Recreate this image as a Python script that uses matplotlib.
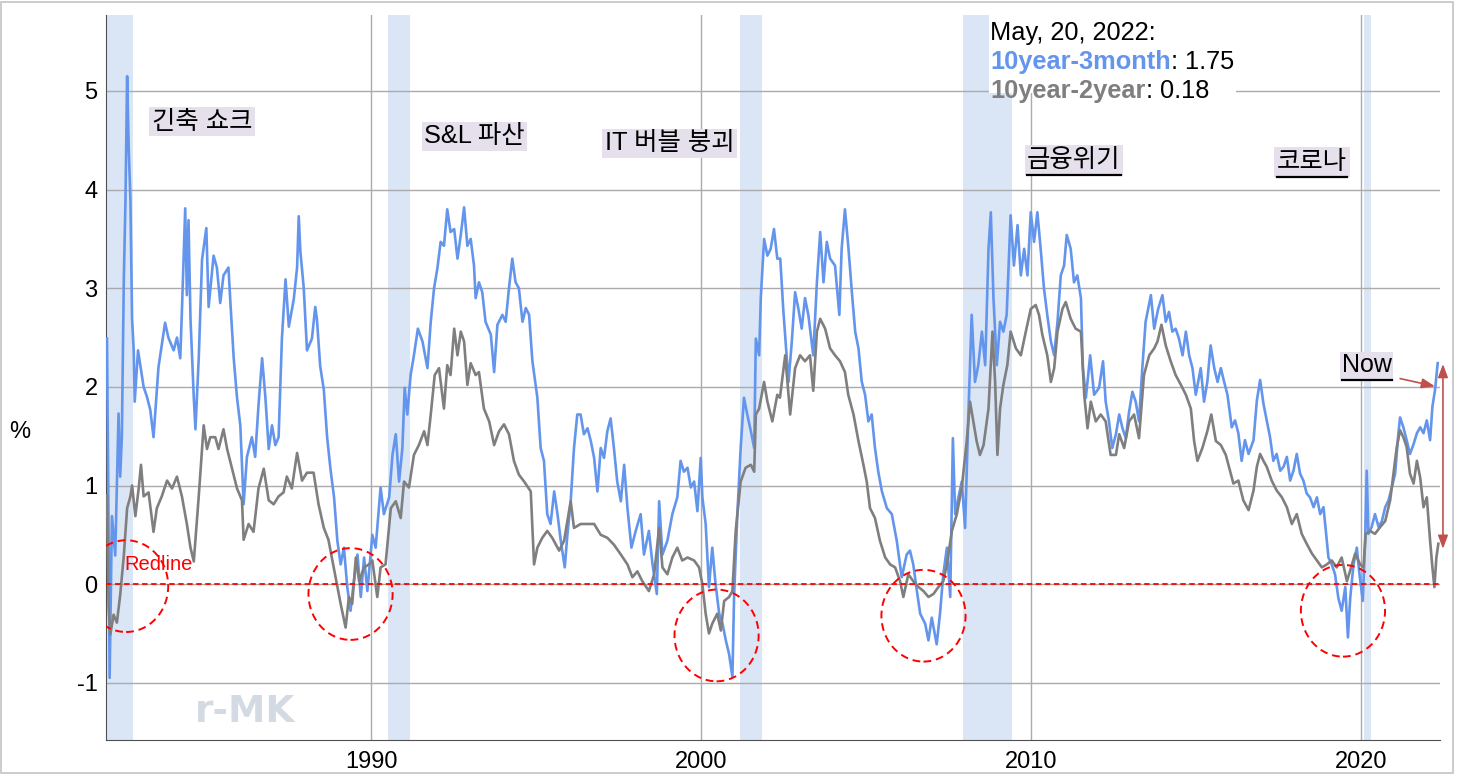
import matplotlib
matplotlib.use('Agg')
import matplotlib.pyplot as plt
from matplotlib.patches import Ellipse, Rectangle
from matplotlib.lines import Line2D

plt.rcParams['font.family'] = ['Liberation Sans', 'Noto Sans CJK KR', 'DejaVu Sans']

# 10year-3month spread (year, %)
t3m_year = [
    1982.00, 1982.04, 1982.08, 1982.15, 1982.25, 1982.35, 1982.40, 1982.45, 1982.51, 1982.56,
    1982.61, 1982.66, 1982.71, 1982.76, 1982.81, 1982.84, 1982.94, 1983.11, 1983.21, 1983.31,
    1983.41, 1983.56, 1983.76, 1983.86, 1984.02, 1984.12, 1984.22, 1984.27, 1984.37, 1984.42,
    1984.47, 1984.53, 1984.63, 1984.68, 1984.78, 1984.88, 1985.01, 1985.08, 1985.23, 1985.33,
    1985.43, 1985.53, 1985.68, 1985.74, 1985.84, 1985.94, 1986.04, 1986.14, 1986.24, 1986.39,
    1986.49, 1986.59, 1986.70, 1986.80, 1986.90, 1987.00, 1987.10, 1987.20, 1987.30, 1987.41,
    1987.51, 1987.66, 1987.76, 1987.81, 1987.86, 1987.96, 1988.06, 1988.21, 1988.31, 1988.36,
    1988.46, 1988.57, 1988.67, 1988.77, 1988.88, 1988.98, 1989.08, 1989.18, 1989.28, 1989.38,
    1989.48, 1989.59, 1989.69, 1989.79, 1989.89, 1990.04, 1990.14, 1990.29, 1990.39, 1990.55,
    1990.65, 1990.75, 1990.85, 1990.95, 1991.02, 1991.10, 1991.20, 1991.30, 1991.42, 1991.56,
    1991.71, 1991.81, 1991.91, 1992.01, 1992.11, 1992.21, 1992.31, 1992.41, 1992.52, 1992.62,
    1992.72, 1992.82, 1992.92, 1993.02, 1993.12, 1993.17, 1993.27, 1993.37, 1993.47, 1993.63,
    1993.73, 1993.83, 1993.98, 1994.08, 1994.18, 1994.28, 1994.38, 1994.48, 1994.59, 1994.69,
    1994.79, 1994.89, 1995.04, 1995.14, 1995.24, 1995.34, 1995.44, 1995.55, 1995.65, 1995.75,
    1995.87, 1995.95, 1996.05, 1996.15, 1996.25, 1996.35, 1996.45, 1996.56, 1996.66, 1996.76,
    1996.86, 1996.96, 1997.06, 1997.16, 1997.26, 1997.36, 1997.46, 1997.57, 1997.67, 1997.77,
    1997.89, 1998.02, 1998.17, 1998.27, 1998.42, 1998.53, 1998.66, 1998.73, 1998.83, 1998.98,
    1999.13, 1999.28, 1999.38, 1999.48, 1999.59, 1999.69, 1999.79, 1999.89, 1999.99, 2000.04,
    2000.14, 2000.24, 2000.34, 2000.44, 2000.55, 2000.65, 2000.75, 2000.85, 2000.95, 2001.00,
    2001.10, 2001.20, 2001.30, 2001.40, 2001.51, 2001.61, 2001.66, 2001.76, 2001.81, 2001.91,
    2002.01, 2002.11, 2002.21, 2002.31, 2002.40, 2002.49, 2002.65, 2002.75, 2002.85, 2002.95,
    2003.05, 2003.15, 2003.25, 2003.40, 2003.51, 2003.61, 2003.71, 2003.81, 2003.91, 2004.06,
    2004.19, 2004.26, 2004.36, 2004.46, 2004.57, 2004.67, 2004.77, 2004.87, 2004.97, 2005.07,
    2005.17, 2005.27, 2005.37, 2005.48, 2005.63, 2005.78, 2005.93, 2006.08, 2006.23, 2006.33,
    2006.43, 2006.54, 2006.64, 2006.79, 2006.89, 2006.99, 2007.14, 2007.24, 2007.34, 2007.45,
    2007.55, 2007.63, 2007.70, 2007.80, 2007.90, 2008.00, 2008.10, 2008.20, 2008.30, 2008.40,
    2008.51, 2008.61, 2008.71, 2008.78, 2008.86, 2008.96, 2009.06, 2009.16, 2009.26, 2009.38,
    2009.48, 2009.59, 2009.69, 2009.79, 2009.89, 2009.99, 2010.09, 2010.19, 2010.29, 2010.39,
    2010.49, 2010.60, 2010.70, 2010.80, 2010.90, 2011.00, 2011.08, 2011.20, 2011.30, 2011.40,
    2011.51, 2011.57, 2011.66, 2011.79, 2011.91, 2012.06, 2012.18, 2012.26, 2012.36, 2012.46,
    2012.57, 2012.67, 2012.77, 2012.87, 2012.97, 2013.07, 2013.17, 2013.27, 2013.37, 2013.47,
    2013.63, 2013.73, 2013.85, 2013.98, 2014.08, 2014.18, 2014.28, 2014.38, 2014.48, 2014.59,
    2014.69, 2014.79, 2014.89, 2014.99, 2015.14, 2015.24, 2015.34, 2015.44, 2015.55, 2015.65,
    2015.75, 2015.85, 2015.95, 2016.08, 2016.18, 2016.28, 2016.38, 2016.48, 2016.59, 2016.74,
    2016.84, 2016.94, 2017.04, 2017.14, 2017.24, 2017.34, 2017.44, 2017.55, 2017.65, 2017.75,
    2017.85, 2017.95, 2018.05, 2018.15, 2018.25, 2018.35, 2018.45, 2018.56, 2018.66, 2018.76,
    2018.86, 2018.93, 2019.01, 2019.11, 2019.21, 2019.31, 2019.41, 2019.52, 2019.60, 2019.67,
    2019.77, 2019.87, 2019.95, 2020.05, 2020.12, 2020.17, 2020.22, 2020.32, 2020.42, 2020.53,
    2020.63, 2020.73, 2020.83, 2020.93, 2021.03, 2021.13, 2021.18, 2021.28, 2021.38, 2021.48,
    2021.59, 2021.69, 2021.79, 2021.89, 2021.99, 2022.09, 2022.16, 2022.24, 2022.32,
]
t3m_val = [
    2.49, 0.90, -0.95, 0.69, 0.29, 1.73, 1.09, 1.49, 3.09, 3.89,
    5.15, 4.40, 3.90, 2.69, 2.37, 1.85, 2.37, 2.00, 1.90, 1.77,
    1.49, 2.20, 2.65, 2.50, 2.37, 2.50, 2.29, 2.77, 3.81, 2.93,
    3.69, 2.69, 1.89, 1.57, 2.29, 3.29, 3.61, 2.81, 3.33, 3.21,
    2.85, 3.13, 3.21, 2.85, 2.29, 1.89, 1.61, 0.81, 1.29, 1.49,
    1.29, 1.81, 2.29, 1.89, 1.37, 1.61, 1.41, 1.49, 2.49, 3.09,
    2.61, 2.89, 3.21, 3.73, 3.37, 3.01, 2.37, 2.49, 2.81, 2.69,
    2.21, 1.97, 1.49, 1.17, 0.88, 0.44, 0.20, 0.37, -0.03, -0.27,
    0.03, 0.30, -0.13, 0.27, -0.07, 0.50, 0.37, 0.98, 0.71, 0.88,
    1.31, 1.52, 1.04, 1.38, 1.99, 1.72, 2.12, 2.32, 2.59, 2.46,
    2.19, 2.66, 3.00, 3.20, 3.47, 3.43, 3.80, 3.57, 3.60, 3.30,
    3.54, 3.82, 3.43, 3.50, 3.23, 2.90, 3.06, 2.96, 2.66, 2.53,
    2.15, 2.63, 2.73, 2.66, 3.00, 3.30, 3.06, 3.00, 2.66, 2.80,
    2.73, 2.26, 1.89, 1.38, 1.25, 0.71, 0.61, 0.94, 0.71, 0.44,
    0.17, 0.50, 0.84, 1.38, 1.72, 1.72, 1.52, 1.58, 1.45, 1.28,
    0.94, 1.38, 1.28, 1.55, 1.68, 1.38, 1.04, 0.84, 1.21, 0.77,
    0.37, 0.54, 0.71, 0.30, 0.54, 0.20, -0.10, 0.84, 0.30, 0.44,
    0.71, 0.88, 1.25, 1.14, 1.18, 0.98, 1.04, 0.74, 1.28, 0.88,
    0.61, -0.03, 0.37, 0.00, -0.30, -0.40, -0.57, -0.71, -0.94, -0.13,
    0.71, 1.38, 1.89, 1.72, 1.55, 1.38, 2.49, 2.32, 2.90, 3.50,
    3.33, 3.40, 3.60, 3.30, 3.30, 2.79, 2.05, 2.46, 2.96, 2.79,
    2.59, 2.90, 2.73, 2.32, 3.06, 3.57, 3.06, 3.47, 3.30, 3.23,
    2.73, 3.40, 3.80, 3.43, 2.96, 2.56, 2.39, 2.05, 1.92, 1.65,
    1.72, 1.38, 1.14, 0.94, 0.77, 0.71, 0.44, 0.07, 0.30, 0.34,
    0.20, -0.07, -0.30, -0.40, -0.57, -0.34, -0.61, -0.30, 0.10, 0.37,
    -0.13, 1.48, 0.71, 0.88, 1.04, 0.57, 1.72, 2.73, 2.05, 2.22,
    2.56, 2.22, 3.40, 3.77, 2.90, 2.22, 2.66, 2.56, 2.73, 3.74,
    3.23, 3.64, 3.13, 3.40, 3.13, 3.77, 3.47, 3.77, 3.40, 3.00,
    2.73, 2.46, 2.32, 2.66, 3.13, 3.23, 3.54, 3.40, 3.06, 3.13,
    2.90, 2.19, 1.89, 2.32, 1.92, 1.99, 2.26, 1.85, 1.65, 1.38,
    1.52, 1.72, 1.58, 1.48, 1.75, 1.95, 1.85, 1.65, 2.19, 2.66,
    2.93, 2.59, 2.79, 2.93, 2.66, 2.76, 2.56, 2.59, 2.49, 2.32,
    2.56, 2.32, 2.19, 1.92, 2.19, 1.85, 2.05, 2.42, 2.19, 2.05,
    2.19, 2.05, 1.92, 1.59, 1.66, 1.53, 1.25, 1.46, 1.32, 1.46,
    1.86, 2.07, 1.83, 1.66, 1.49, 1.25, 1.32, 1.15, 1.19, 1.29,
    1.05, 1.15, 1.32, 1.12, 1.05, 0.92, 0.88, 0.78, 0.88, 0.71,
    0.78, 0.54, 0.27, 0.20, 0.10, -0.14, -0.27, -0.03, -0.54, -0.14,
    0.20, 0.37, 0.10, -0.17, 0.44, 1.15, 0.51, 0.58, 0.71, 0.58,
    0.64, 0.78, 0.85, 0.98, 1.12, 1.53, 1.69, 1.59, 1.46, 1.32,
    1.42, 1.53, 1.59, 1.53, 1.66, 1.46, 1.80, 1.97, 2.24,
]

# 10year-2year spread (year, %)
t2y_year = [
    1982.00, 1982.05, 1982.10, 1982.20, 1982.30, 1982.40, 1982.51, 1982.61, 1982.71, 1982.76,
    1982.86, 1982.96, 1983.03, 1983.11, 1983.26, 1983.41, 1983.51, 1983.66, 1983.82, 1983.97,
    1984.12, 1984.27, 1984.42, 1984.53, 1984.63, 1984.78, 1984.93, 1985.03, 1985.13, 1985.28,
    1985.38, 1985.53, 1985.64, 1985.79, 1985.94, 1986.09, 1986.14, 1986.29, 1986.44, 1986.59,
    1986.75, 1986.90, 1987.05, 1987.20, 1987.35, 1987.45, 1987.60, 1987.76, 1987.91, 1988.06,
    1988.26, 1988.41, 1988.57, 1988.71, 1988.87, 1989.08, 1989.23, 1989.33, 1989.43, 1989.54,
    1989.64, 1989.79, 1989.94, 1990.04, 1990.19, 1990.29, 1990.44, 1990.60, 1990.75, 1990.90,
    1991.00, 1991.15, 1991.30, 1991.45, 1991.61, 1991.71, 1991.81, 1991.93, 1992.06, 1992.21,
    1992.31, 1992.41, 1992.52, 1992.62, 1992.72, 1992.82, 1992.92, 1993.02, 1993.17, 1993.27,
    1993.42, 1993.58, 1993.73, 1993.88, 1994.03, 1994.18, 1994.33, 1994.48, 1994.64, 1994.84,
    1994.94, 1995.04, 1995.19, 1995.34, 1995.49, 1995.70, 1995.85, 1996.05, 1996.15, 1996.35,
    1996.56, 1996.76, 1996.96, 1997.16, 1997.36, 1997.57, 1997.77, 1997.92, 1998.07, 1998.22,
    1998.42, 1998.58, 1998.73, 1998.83, 1998.98, 1999.13, 1999.28, 1999.43, 1999.59, 1999.79,
    1999.94, 2000.04, 2000.14, 2000.24, 2000.34, 2000.49, 2000.60, 2000.70, 2000.85, 2000.95,
    2001.05, 2001.20, 2001.35, 2001.51, 2001.61, 2001.66, 2001.76, 2001.91, 2002.01, 2002.16,
    2002.31, 2002.39, 2002.55, 2002.70, 2002.85, 2003.00, 2003.15, 2003.30, 2003.40, 2003.51,
    2003.61, 2003.76, 2003.91, 2004.06, 2004.21, 2004.36, 2004.46, 2004.62, 2004.77, 2004.92,
    2005.02, 2005.12, 2005.27, 2005.42, 2005.58, 2005.73, 2005.88, 2006.03, 2006.13, 2006.28,
    2006.43, 2006.59, 2006.74, 2006.89, 2007.04, 2007.19, 2007.34, 2007.45, 2007.60, 2007.75,
    2007.90, 2008.05, 2008.15, 2008.25, 2008.35, 2008.45, 2008.56, 2008.71, 2008.83, 2008.91,
    2008.98, 2009.06, 2009.16, 2009.28, 2009.38, 2009.54, 2009.69, 2009.84, 2009.99, 2010.14,
    2010.24, 2010.34, 2010.49, 2010.60, 2010.70, 2010.80, 2010.95, 2011.05, 2011.20, 2011.35,
    2011.51, 2011.61, 2011.71, 2011.81, 2011.96, 2012.11, 2012.26, 2012.41, 2012.57, 2012.67,
    2012.82, 2012.97, 2013.12, 2013.27, 2013.42, 2013.58, 2013.73, 2013.83, 2013.95, 2014.08,
    2014.23, 2014.38, 2014.54, 2014.69, 2014.84, 2014.94, 2015.04, 2015.19, 2015.34, 2015.46,
    2015.60, 2015.75, 2015.90, 2016.13, 2016.28, 2016.43, 2016.59, 2016.74, 2016.84, 2016.94,
    2017.04, 2017.14, 2017.29, 2017.44, 2017.60, 2017.75, 2017.90, 2018.05, 2018.20, 2018.35,
    2018.51, 2018.66, 2018.81, 2018.96, 2019.11, 2019.26, 2019.41, 2019.57, 2019.67, 2019.82,
    2019.97, 2020.07, 2020.14, 2020.27, 2020.42, 2020.58, 2020.73, 2020.88, 2020.98, 2021.08,
    2021.18, 2021.28, 2021.38, 2021.48, 2021.59, 2021.69, 2021.79, 2021.89, 2021.99, 2022.09,
    2022.16, 2022.22, 2022.28, 2022.34,
]
t2y_val = [
    0.90, -0.23, -0.51, -0.31, -0.39, -0.11, 0.29, 0.77, 0.89, 1.00,
    0.69, 0.97, 1.21, 0.89, 0.93, 0.53, 0.77, 0.89, 1.05, 0.97,
    1.09, 0.89, 0.61, 0.37, 0.23, 0.89, 1.61, 1.37, 1.49, 1.49,
    1.37, 1.57, 1.37, 1.17, 0.97, 0.85, 0.45, 0.61, 0.53, 0.97,
    1.17, 0.85, 0.81, 0.89, 0.93, 1.09, 0.97, 1.33, 1.05, 1.13,
    1.13, 0.81, 0.57, 0.45, 0.17, -0.20, -0.44, -0.13, -0.20, 0.27,
    0.03, 0.17, 0.20, 0.24, -0.13, 0.17, 0.20, 0.77, 0.84, 0.67,
    1.04, 0.98, 1.31, 1.41, 1.55, 1.41, 1.72, 2.12, 2.19, 1.78,
    2.22, 2.12, 2.59, 2.32, 2.56, 2.46, 2.02, 2.24, 2.12, 2.15,
    1.78, 1.65, 1.41, 1.55, 1.62, 1.52, 1.25, 1.11, 1.04, 0.94,
    0.20, 0.37, 0.47, 0.54, 0.47, 0.34, 0.44, 0.84, 0.57, 0.61,
    0.61, 0.61, 0.50, 0.47, 0.40, 0.30, 0.20, 0.07, 0.13, 0.03,
    -0.07, 0.10, 0.57, 0.17, 0.10, 0.27, 0.37, 0.24, 0.27, 0.24,
    0.17, 0.00, -0.30, -0.50, -0.40, -0.30, -0.47, -0.17, -0.13, -0.07,
    0.54, 1.04, 1.18, 1.21, 1.14, 1.72, 1.78, 2.05, 1.85, 1.65,
    1.92, 1.89, 2.32, 1.72, 2.19, 2.32, 2.26, 2.32, 1.96, 2.56,
    2.69, 2.59, 2.39, 2.32, 2.26, 2.15, 1.92, 1.72, 1.45, 1.21,
    1.04, 0.77, 0.67, 0.44, 0.27, 0.20, 0.17, 0.03, -0.13, 0.10,
    0.03, -0.03, -0.07, -0.13, -0.10, -0.03, 0.03, 0.20, 0.54, 0.71,
    0.98, 1.45, 1.85, 1.65, 1.45, 1.31, 1.41, 1.78, 2.56, 2.05,
    1.31, 1.78, 2.02, 2.22, 2.56, 2.39, 2.32, 2.56, 2.79, 2.83,
    2.73, 2.53, 2.32, 2.05, 2.19, 2.56, 2.79, 2.86, 2.69, 2.59,
    2.56, 1.92, 1.58, 1.85, 1.65, 1.72, 1.65, 1.31, 1.31, 1.52,
    1.38, 1.65, 1.72, 1.48, 2.12, 2.32, 2.39, 2.46, 2.63, 2.42,
    2.26, 2.12, 2.02, 1.92, 1.78, 1.45, 1.25, 1.38, 1.55, 1.72,
    1.45, 1.41, 1.31, 1.02, 1.05, 0.85, 0.75, 0.95, 1.19, 1.32,
    1.25, 1.19, 1.05, 0.95, 0.88, 0.78, 0.61, 0.71, 0.51, 0.41,
    0.31, 0.24, 0.17, 0.20, 0.24, 0.17, 0.27, 0.03, 0.14, 0.31,
    0.20, 0.17, 0.51, 0.54, 0.51, 0.58, 0.64, 0.85, 1.12, 1.39,
    1.56, 1.49, 1.39, 1.12, 1.02, 1.25, 1.08, 0.78, 0.88, 0.44,
    0.17, -0.03, 0.27, 0.41,
]

# NBER recessions (start, end)
rec_start = [1981.50, 1990.50, 2001.17, 2007.95, 2020.10]
rec_end = [1982.80, 1991.17, 2001.84, 2009.42, 2020.30]

# inversion circles (centre year, centre %)
circ_year = [1982.58, 1989.38, 2000.47, 2006.74, 2019.45]
circ_val = [-0.02, -0.10, -0.52, -0.32, -0.27]

# event labels
events = ['긴축 쇼크', 'S&L 파산', 'IT 버블 붕괴', '금융위기', '코로나']
event_year = [1983.36, 1991.61, 1997.09, 2009.88, 2017.45]
event_val = [4.69, 4.54, 4.47, 4.30, 4.28]
event_underline = [False, False, False, True, True]

blue = '#6495ed'
gray = '#7f7f7f'
label_bg = '#e5e0ec'
arrow_c = '#c0504d'

fig = plt.figure(figsize=(14.57, 7.75), dpi=100)
ax = fig.add_axes([106 / 1457, 35 / 775, 1334 / 1457, 725 / 775])

ax.set_xlim(1981.97, 2022.39)
ax.set_ylim(-1.58, 5.77)

for s, e in zip(rec_start, rec_end):
    ax.axvspan(s, e, color='#dae5f5', lw=0, zorder=0)

ax.set_yticks([-1, 0, 1, 2, 3, 4, 5])
ax.set_yticklabels(['-1', '0', '1', '2', '3', '4', '5'])
ax.set_xticks([1990, 2000, 2010, 2020])
ax.grid(True, color='#ababab', lw=1.0)
ax.set_axisbelow(True)
ax.tick_params(length=0, labelsize=17)
ax.tick_params(axis='y', pad=6)
ax.tick_params(axis='x', pad=8)
for sp in ['top', 'right']:
    ax.spines[sp].set_visible(False)
ax.spines['left'].set_color('#505050')
ax.spines['bottom'].set_color('#505050')

ax.plot(t3m_year, t3m_val, color=blue, lw=1.9, zorder=3)
ax.plot(t2y_year, t2y_val, color=gray, lw=1.9, zorder=4)

ax.axhline(0, color='red', lw=1.3, ls=(0, (3, 2)), zorder=5)
ax.text(1982.52, 0.14, 'Redline', color='red', fontsize=14.5, zorder=6)

for cy, cv in zip(circ_year, circ_val):
    ax.add_patch(Ellipse((cy, cv), 2.55, 0.93, fill=False, edgecolor='red',
                         lw=1.4, ls=(0, (4, 2.5)), zorder=6))

txts = []
for name, ex, ev in zip(events, event_year, event_val):
    t = ax.text(ex, ev, name, fontsize=18.3, va='center', ha='left', zorder=7,
                bbox=dict(boxstyle='square,pad=0.1', fc=label_bg, ec='none'))
    txts.append(t)
now = ax.text(2019.42, 2.22, 'Now', fontsize=18, va='center', ha='left', zorder=7,
              bbox=dict(boxstyle='square,pad=0.06', fc=label_bg, ec='none'))

# arrows near the latest value
ax.annotate('', xy=(2022.32, 2.0), xytext=(2021.1, 2.09),
            arrowprops=dict(arrowstyle='-|>,head_length=0.8,head_width=0.3',
                            color=arrow_c, lw=1.2), zorder=7)
ax.annotate('', xy=(2022.48, 2.26), xytext=(2022.48, 0.33),
            arrowprops=dict(arrowstyle='<|-|>,head_length=0.8,head_width=0.3',
                            color=arrow_c, lw=1.2), annotation_clip=False, zorder=7)

# watermark
ax.text(1984.67, -1.3, 'r-MK', fontsize=27, fontweight='bold', color='#d3dae4',
        va='center', ha='left', zorder=2, family='DejaVu Sans')

# info box
ax.add_patch(Rectangle((2008.72, 4.98), 7.5, 0.8, fc='white', ec='none', zorder=7))
l1 = ax.text(2008.76, 5.59, 'May, 20, 2022:', fontsize=18.3, va='center', ha='left', zorder=8)
l2 = ax.text(2008.76, 5.295, '10year-3month', fontsize=18.3, fontweight='bold', color=blue,
             va='center', ha='left', zorder=8)
ax.annotate(': 1.75', xy=(1, 0), xycoords=l2, va='bottom', ha='left', fontsize=18.3, zorder=8)
l3 = ax.text(2008.76, 5.0, '10year-2year', fontsize=18.3, fontweight='bold', color=gray,
             va='center', ha='left', zorder=8)
ax.annotate(': 0.18', xy=(1, 0), xycoords=l3, va='bottom', ha='left', fontsize=18.3, zorder=8)

fig.text(20 / 1457, 1 - 432 / 775, '%', fontsize=17, ha='center', va='center')

# underlines
fig.canvas.draw()
r = fig.canvas.get_renderer()
inv = fig.transFigure.inverted()
for t in [tt for tt, u in zip(txts, event_underline) if u] + [now]:
    bb = t.get_window_extent(r)
    (x0, y0), (x1, _) = inv.transform([(bb.x0, bb.y0 - 3), (bb.x1, bb.y0)])
    fig.add_artist(Line2D([x0, x1], [y0, y0], color='black', lw=1.6))

fig.add_artist(Rectangle((0.001, 0.002), 0.996, 0.995, transform=fig.transFigure,
                         fill=False, ec='#c4c4c4', lw=1.2))

fig.savefig('out.png', dpi=100)
